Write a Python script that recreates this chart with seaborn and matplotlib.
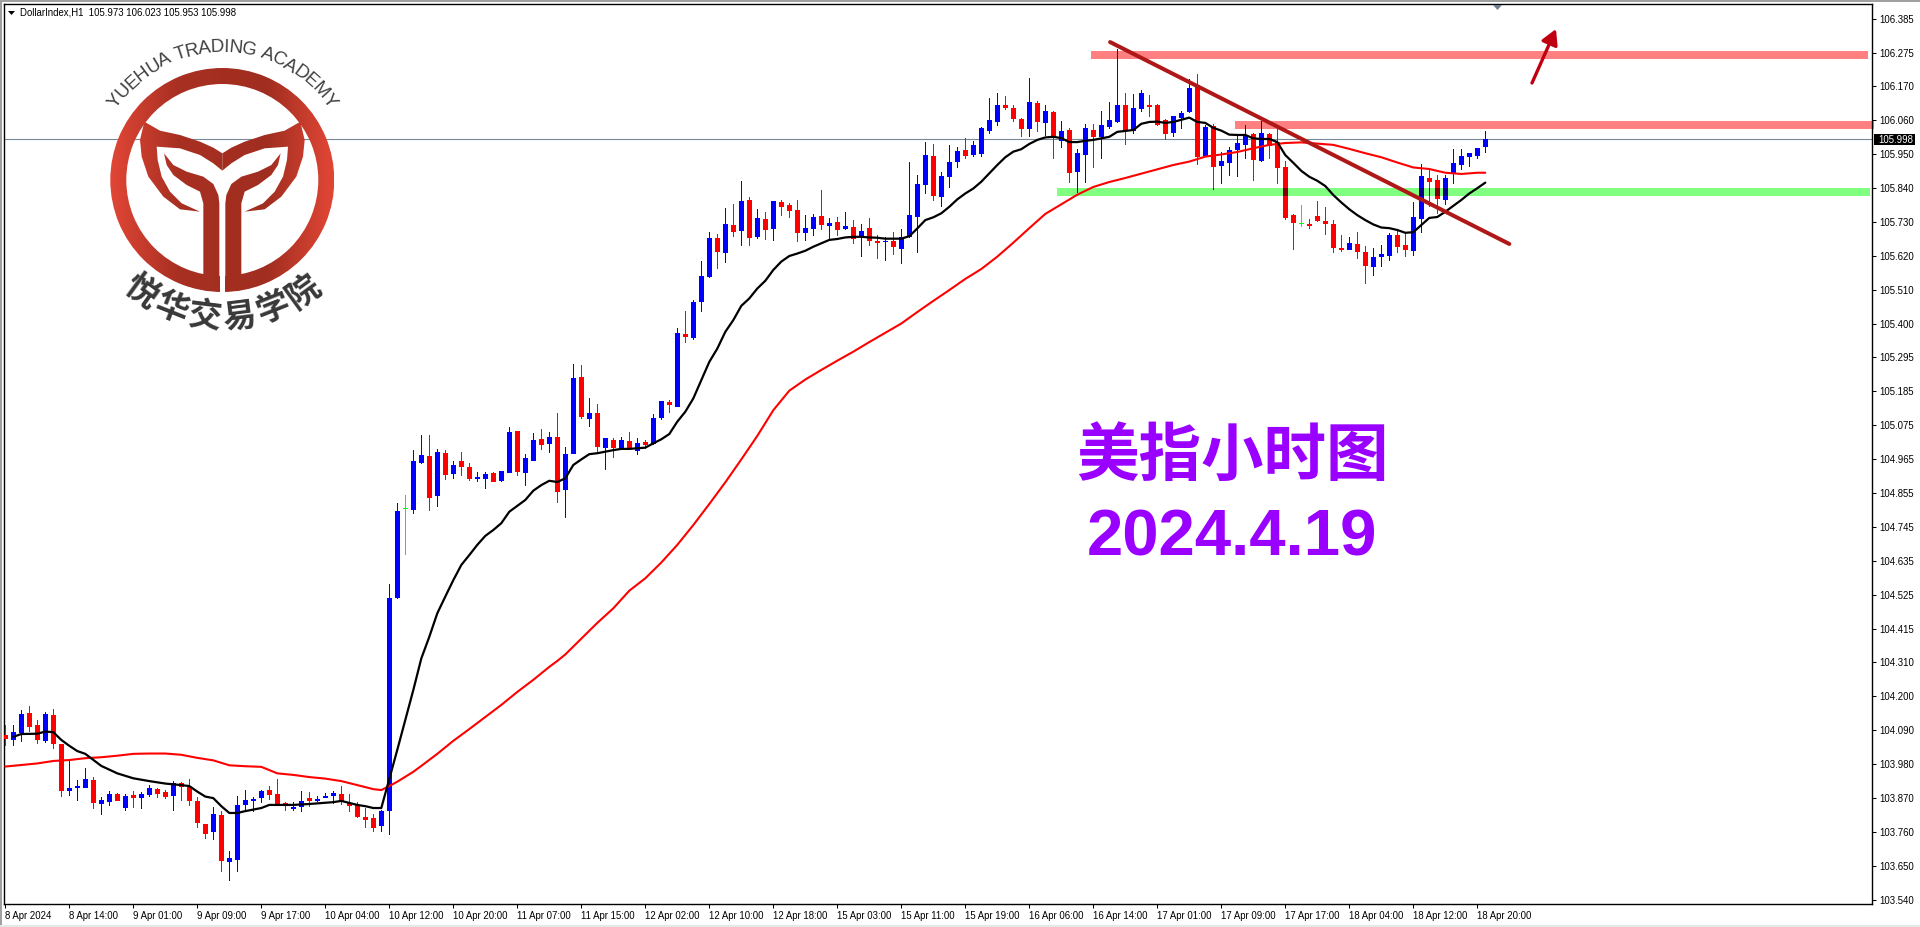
import numpy as np
import pandas as pd
import matplotlib
matplotlib.use("Agg")
import matplotlib.pyplot as plt
import seaborn as sns
from matplotlib.patches import Rectangle, Polygon, Wedge
from matplotlib.colors import LinearSegmentedColormap
from matplotlib.font_manager import FontProperties

# ---------- data ----------
highs = [104.105,104.105,104.154,104.167,104.121,104.147,104.157,104.044,103.992,103.927,103.966,103.937,103.873,103.892,103.884,103.882,103.892,103.889,103.911,103.902,103.895,103.924,103.921,103.931,103.873,103.785,103.840,103.827,103.698,103.876,103.895,103.873,103.895,103.908,103.931,103.856,103.856,103.892,103.889,103.876,103.885,103.892,103.908,103.882,103.856,103.837,103.818,103.831,
104.560,104.821,104.848,104.993,105.042,105.042,104.997,104.993,104.958,104.987,104.951,104.922,104.922,104.922,104.926,105.068,105.055,104.980,105.048,105.061,105.052,105.113,105.003,105.272,105.268,105.162,105.142,105.032,105.032,105.035,105.052,105.032,105.026,105.110,105.152,105.155,105.387,105.442,105.478,105.604,105.697,105.691,105.775,105.788,105.862,105.810,105.772,105.762,105.798,105.801,105.791,105.801,105.752,105.755,105.833,105.743,105.746,105.762,105.736,105.723,105.743,105.688,105.681,105.697,105.707,105.925,105.882,105.989,105.982,105.892,105.979,105.973,106.002,105.992,106.037,106.131,106.147,106.137,106.108,106.066,106.195,106.121,106.108,106.089,106.056,106.034,105.966,106.047,106.047,106.089,106.118,106.289,106.147,106.143,106.156,106.140,106.111,106.063,106.072,106.089,106.192,106.208,106.043,106.047,105.956,105.972,106.011,106.043,106.016,106.056,106.017,106.043,105.927,105.756,105.785,105.740,105.798,105.778,105.736,105.688,105.681,105.697,105.652,105.646,105.656,105.694,105.701,105.694,105.794,105.917,105.898,105.882,105.882,105.966,105.966,105.953,105.969,106.023]
opens = [104.073,104.057,104.078,104.145,104.105,104.053,104.137,104.044,103.892,103.902,103.902,103.927,103.850,103.856,103.882,103.837,103.879,103.869,103.879,103.898,103.889,103.876,103.918,103.905,103.860,103.785,103.759,103.814,103.663,103.669,103.847,103.860,103.869,103.895,103.882,103.853,103.834,103.840,103.869,103.860,103.869,103.876,103.882,103.853,103.847,103.808,103.805,103.779,
103.828,104.514,104.802,104.800,104.951,104.974,104.845,104.984,104.916,104.958,104.939,104.900,104.900,104.919,104.893,104.919,105.055,104.919,104.958,105.029,105.013,105.035,104.864,104.980,105.230,105.094,105.113,105.000,105.026,104.997,105.023,104.990,105.019,105.013,105.097,105.149,105.132,105.368,105.355,105.471,105.552,105.678,105.630,105.720,105.701,105.801,105.681,105.739,105.707,105.794,105.785,105.768,105.694,105.707,105.749,105.717,105.730,105.707,105.714,105.684,105.710,105.668,105.665,105.668,105.642,105.681,105.746,105.850,105.943,105.811,105.876,105.924,105.963,105.947,105.950,106.024,106.053,106.108,106.099,106.063,106.030,106.114,106.050,106.085,105.992,106.027,105.892,105.946,106.027,106.005,106.037,106.053,106.108,106.024,106.095,106.108,106.108,106.060,106.017,106.066,106.085,106.173,105.943,106.040,105.911,105.921,105.963,105.979,106.014,105.927,106.014,105.988,105.908,105.753,105.723,105.723,105.749,105.733,105.723,105.646,105.639,105.659,105.633,105.584,105.617,105.620,105.688,105.656,105.636,105.739,105.872,105.866,105.801,105.885,105.914,105.940,105.943,105.973]
closes = [104.059,104.084,104.141,104.099,104.057,104.141,104.044,103.892,103.902,103.908,103.931,103.853,103.863,103.882,103.860,103.876,103.869,103.882,103.902,103.882,103.873,103.918,103.905,103.860,103.789,103.753,103.818,103.666,103.675,103.847,103.863,103.866,103.892,103.879,103.847,103.847,103.840,103.860,103.860,103.866,103.876,103.885,103.856,103.843,103.808,103.798,103.772,103.827,
104.514,104.796,104.802,104.958,104.977,104.838,104.987,104.913,104.945,104.939,104.900,104.906,104.916,104.890,104.926,105.052,104.922,104.968,105.026,105.010,105.035,104.858,104.980,105.226,105.100,105.113,105.004,105.032,105.000,105.026,105.000,105.016,105.010,105.097,105.152,105.139,105.371,105.358,105.471,105.555,105.678,105.633,105.723,105.697,105.798,105.678,105.743,105.704,105.798,105.778,105.765,105.694,105.710,105.746,105.720,105.726,105.704,105.717,105.675,105.701,105.668,105.662,105.668,105.649,105.681,105.752,105.852,105.947,105.814,105.879,105.924,105.960,105.943,105.979,106.034,106.060,106.108,106.099,106.063,106.031,106.118,106.053,106.089,106.008,106.024,105.888,105.953,106.034,106.005,106.043,106.060,106.108,106.024,106.098,106.147,106.102,106.043,106.014,106.072,106.082,106.163,105.940,106.037,105.908,105.927,105.963,105.985,106.011,105.930,106.017,105.976,105.904,105.743,105.727,105.723,105.717,105.733,105.723,105.646,105.639,105.662,105.633,105.588,105.617,105.626,105.688,105.649,105.639,105.746,105.878,105.859,105.804,105.872,105.920,105.943,105.953,105.969,105.998]
lows = [104.038,104.038,104.050,104.084,104.044,104.048,104.028,103.873,103.876,103.860,103.902,103.834,103.814,103.843,103.860,103.827,103.837,103.834,103.873,103.869,103.866,103.827,103.860,103.843,103.772,103.737,103.734,103.630,103.601,103.630,103.831,103.824,103.853,103.863,103.843,103.827,103.827,103.824,103.840,103.856,103.869,103.850,103.847,103.824,103.805,103.772,103.759,103.759,
103.750,104.512,104.654,104.787,104.948,104.796,104.809,104.897,104.900,104.909,104.893,104.890,104.867,104.890,104.890,104.919,104.909,104.877,104.958,104.993,104.984,104.822,104.774,104.980,105.094,105.068,104.983,104.929,104.968,104.993,104.993,104.977,104.997,105.010,105.090,105.113,105.132,105.339,105.348,105.439,105.549,105.578,105.597,105.681,105.652,105.652,105.675,105.672,105.668,105.749,105.743,105.665,105.668,105.684,105.704,105.672,105.684,105.704,105.659,105.617,105.652,105.610,105.604,105.623,105.594,105.679,105.630,105.821,105.798,105.779,105.840,105.905,105.934,105.940,105.940,106.015,106.040,106.092,106.053,106.005,106.005,106.021,106.008,105.934,105.969,105.856,105.824,105.856,105.904,105.934,106.030,106.050,105.979,106.014,106.085,106.069,106.040,105.995,106.005,106.030,106.083,105.914,105.940,105.833,105.853,105.879,105.875,105.934,105.862,105.924,105.934,105.853,105.736,105.640,105.714,105.707,105.730,105.688,105.630,105.633,105.639,105.610,105.529,105.555,105.584,105.604,105.630,105.617,105.620,105.694,105.778,105.756,105.785,105.853,105.898,105.908,105.933,105.953]

fast_bar = [1,2,4,5,6,7,8,9,10,12,14,16,18,20,22,23,24,25,26,27,28,29,30,32,33,36,38,41,42,44,45,46,47,48,49,50,51,52,53,54,55,56,57,58,59,60,61,62,63,64,65,66,67,68,69,70,71,72,73,74,75,76,77,78,79,80,81,82,83,84,85,86,87,88,89,90,91,92,93,94,95,96,97,98,99,100,101,102,103,104,105,106,107,108,109,110,111,112,113,114,115,116,117,118,119,120,121,122,123,124,125,126,127,128,129,130,131,132,133,134,135,136,137,138,139,140,141,142,143,144,145,146,147,148,149,150,151,152,153,154,155,156,157,158,159,160,161,162,163,164,165,166,167,168,169,170,171,172,173,174,175,176,177,178,179,180,181,182,183,184,185]
fast_ma = [104.067,104.076,104.077,104.084,104.082,104.057,104.038,104.021,104.012,103.973,103.949,103.933,103.924,103.916,103.911,103.908,103.890,103.874,103.869,103.843,103.821,103.821,103.827,103.837,103.847,103.847,103.850,103.856,103.860,103.847,103.843,103.837,103.837,103.931,104.025,104.121,104.218,104.320,104.390,104.466,104.520,104.573,104.622,104.654,104.687,104.716,104.735,104.757,104.794,104.813,104.832,104.862,104.880,104.894,104.890,104.902,104.945,104.963,104.980,104.983,104.988,104.993,104.997,104.997,104.999,105.001,105.015,105.028,105.045,105.085,105.117,105.160,105.219,105.278,105.321,105.375,105.413,105.459,105.483,105.515,105.540,105.575,105.602,105.620,105.628,105.637,105.650,105.661,105.672,105.675,105.680,105.682,105.682,105.680,105.679,105.676,105.676,105.676,105.684,105.709,105.736,105.745,105.758,105.779,105.803,105.822,105.838,105.860,105.887,105.914,105.939,105.957,105.965,105.982,105.995,106.003,106.005,106.001,105.988,105.988,105.992,105.995,106.000,106.005,106.021,106.024,106.027,106.047,106.053,106.054,106.050,106.053,106.060,106.067,106.053,106.050,106.034,106.025,106.012,106.011,106.011,106.000,105.998,105.998,105.988,105.946,105.921,105.895,105.876,105.863,105.846,105.817,105.793,105.771,105.752,105.736,105.722,105.712,105.710,105.704,105.695,105.697,105.720,105.743,105.746,105.763,105.782,105.801,105.822,105.839,105.857]

slow_bar = [0,2,4,6,8,10,12,14,16,18,20,22,24,26,28,30,32,34,36,38,40,42,44,46,47,48,49,50,51,52,54,56,58,60,62,64,66,68,69,70,72,74,76,78,80,82,84,86,88,90,92,94,96,98,100,102,104,106,108,110,112,114,116,118,120,122,124,126,128,130,132,134,136,138,140,142,144,146,148,150,152,154,156,158,160,162,164,166,168,170,172,174,176,178,180,182,184,185]
slow_ma = [103.971,103.976,103.981,103.989,103.992,103.998,104.001,104.006,104.012,104.013,104.013,104.009,103.999,103.991,103.975,103.972,103.970,103.949,103.944,103.937,103.932,103.924,103.911,103.898,103.895,103.908,103.922,103.938,103.954,103.973,104.012,104.054,104.092,104.131,104.170,104.212,104.251,104.293,104.312,104.333,104.384,104.435,104.482,104.539,104.579,104.630,104.687,104.751,104.819,104.889,104.963,105.039,105.122,105.185,105.221,105.252,105.282,105.311,105.342,105.372,105.402,105.439,105.475,105.510,105.546,105.578,105.618,105.663,105.710,105.756,105.787,105.818,105.843,105.859,105.872,105.886,105.900,105.914,105.925,105.941,105.948,105.956,105.968,105.979,105.985,105.987,105.983,105.979,105.966,105.952,105.939,105.922,105.906,105.901,105.889,105.885,105.889,105.889]

price_ticks = [106.385,106.275,106.170,106.060,105.950,105.840,105.730,105.620,105.510,105.400,105.295,105.185,105.075,104.965,104.855,104.745,104.635,104.525,104.415,104.310,104.200,104.090,103.980,103.870,103.760,103.650,103.540]
time_labels = ["8 Apr 2024","8 Apr 14:00","9 Apr 01:00","9 Apr 09:00","9 Apr 17:00","10 Apr 04:00","10 Apr 12:00","10 Apr 20:00","11 Apr 07:00","11 Apr 15:00","12 Apr 02:00","12 Apr 10:00","12 Apr 18:00","15 Apr 03:00","15 Apr 11:00","15 Apr 19:00","16 Apr 06:00","16 Apr 14:00","17 Apr 01:00","17 Apr 09:00","17 Apr 17:00","18 Apr 04:00","18 Apr 12:00","18 Apr 20:00"]
last_price = 105.998
header = "DollarIndex,H1  105.973 106.023 105.953 105.998"
zone_upper = (135.7, 232.8, 106.256, 106.282)
zone_middle = (153.7, 233.6, 106.030, 106.056)
zone_green = (131.5, 233.1, 105.814, 105.840)
trend_bar = [138.1, 188.0]
trend_price = [106.311, 105.659]

# ---------- setup ----------
sns.set_theme(style="white")
plt.rcParams["font.family"] = ["Liberation Sans", "Noto Sans CJK SC", "DejaVu Sans"]
fig = plt.figure(figsize=(19.2, 9.27), dpi=100, facecolor="white")
ax = fig.add_axes([4/1920, 23/927, 1868/1920, 900/927])
ax.set_xlim((4-5.3)/8, (1872-5.3)/8)
ax.set_ylim(103.527, 106.434)

PINK, LIME = "#ff8080", "#80ff80"
rects = {}
for name, z, c in (("u", zone_upper, PINK), ("m", zone_middle, PINK), ("g", zone_green, LIME)):
    r = Rectangle((z[0], z[2]), z[1]-z[0], z[3]-z[2], fc=c, ec="none", zorder=1, clip_on=False)
    ax.add_patch(r)
    rects[name] = r

ax.axhline(last_price, color="#778899", lw=0.8, zorder=1.5)

bars = np.arange(len(closes))
o, c_, h, l = map(np.array, (opens, closes, highs, lows))
kind = np.where(o == c_, "doji", np.where(c_ > o, "up", "down"))
BAR_PX = 1/8          # one screen pixel in bar units
PRICE_PX = 0.00323    # one screen pixel in price units

def draw_candles(palette, clip=None, z=3):
    arts = []
    # wicks as one-pixel wide bars, bodies as five-pixel wide bars
    wick = ax.bar(bars, h-l, bottom=l, width=BAR_PX, color=[palette[k] for k in kind],
                  linewidth=0, antialiased=False, zorder=z)
    arts.extend(wick.patches)
    mask = kind != "doji"
    cont = ax.bar(bars[mask], np.abs(c_-o)[mask], bottom=np.minimum(o, c_)[mask], width=5.6/8,
                  color=[palette[k] for k in kind[mask]], linewidth=0, antialiased=False, zorder=z)
    arts.extend(cont.patches)
    flat = ax.bar(bars[~mask], PRICE_PX, bottom=c_[~mask], width=5.6/8,
                  color=palette["doji"], linewidth=0, antialiased=False, zorder=z)
    arts.extend(flat.patches)
    if clip is not None:
        for a in arts:
            a.set_clip_path(clip)

draw_candles({"up": "#0000ff", "down": "#ff0000", "doji": "#00ff00"})
draw_candles({"up": "#000080", "down": "#800000", "doji": "#008000"}, clip=rects["g"], z=3.2)

sns.lineplot(data=pd.DataFrame({"bar": slow_bar, "ma": slow_ma}), x="bar", y="ma", color="#ff0000",
             lw=1.5, estimator=None, sort=False, legend=False, ax=ax, zorder=4)
sns.lineplot(data=pd.DataFrame({"bar": fast_bar, "ma": fast_ma}), x="bar", y="ma", color="#000000",
             lw=1.6, estimator=None, sort=False, legend=False, ax=ax, zorder=4.5)
sns.lineplot(data=pd.DataFrame({"bar": trend_bar, "p": trend_price}), x="bar", y="p", color="#b01818",
             lw=2.9, estimator=None, sort=False, legend=False, ax=ax, zorder=5)

ax.set_xlabel(""); ax.set_ylabel("")
ax.set_xlim((4-5.3)/8, (1872-5.3)/8)
ax.set_ylim(103.527, 106.434)
for s in ax.spines.values():
    s.set_visible(True); s.set_color("black"); s.set_linewidth(1.0)
ax.yaxis.tick_right()
ax.set_yticks(price_ticks)
ax.set_yticklabels([f"{p:.3f}" for p in price_ticks], fontsize=6.9, color="black")
ax.set_xticks(np.arange(len(time_labels))*8)
ax.set_xticklabels(time_labels, fontsize=6.9, color="black", ha="left")
ax.tick_params(axis="y", which="major", right=True, length=3, width=0.75, pad=2, color="black")
ax.tick_params(axis="x", which="major", bottom=True, length=3, width=0.75, pad=2, color="black")

# ---------- overlay in pixel coordinates ----------
ov = fig.add_axes([0, 0, 1, 1], facecolor="none", zorder=10)
ov.set_axis_off()
ov.set_xlim(0, 1920); ov.set_ylim(927, 0)

ov.add_patch(Rectangle((0, 0), 1920, 2, fc="#a0a0a0", ec="none"))
ov.add_patch(Rectangle((0, 0), 1.5, 927, fc="#a0a0a0", ec="none"))
ov.add_patch(Rectangle((0, 925), 1920, 2, fc="#e8e8e8", ec="none"))
ov.add_patch(Polygon([(8, 11), (15, 11), (11.5, 15)], fc="black", ec="none"))
ov.add_patch(Polygon([(1493, 5), (1502, 5), (1497.5, 10)], fc="#708090", ec="none"))
ov.text(20, 12.5, header, fontsize=6.9, color="black", va="center", ha="left")

ov.add_patch(Rectangle((1874, 134), 41, 11, fc="black", ec="none"))
ov.text(1878, 139.5, f"{last_price:.3f}", fontsize=6.9, color="white", va="center", ha="left")

ov.annotate("", xy=(1556, 29), xytext=(1532, 83),
            arrowprops=dict(arrowstyle="-|>,head_length=0.75,head_width=0.42", color="#c00010", lw=2.4,
                            shrinkA=0, shrinkB=0, mutation_scale=12))

ov.text(1232, 456, "美指小时图", fontsize=45, fontweight="bold", color="#9900ff", ha="center", va="center",
        family=["Noto Sans CJK SC", "DejaVu Sans"])
ov.text(1232, 539, "2024.4.19", fontsize=47, fontweight="bold", color="#9900ff", ha="center", va="center")

# logo
cx, cy = 222.3, 180
cmap = LinearSegmentedColormap.from_list("logo", [(0, "#e24636"), (0.3, "#a83022"), (0.7, "#a02e20"), (1, "#e24636")])
grad = np.linspace(0, 1, 256).reshape(1, -1)
def Z(pts):
    return [(x/3, y/3) for x, y in pts]
def mirror(pts):
    return [(2*667-x, y) for x, y in pts]
tail = [(433,365),(480,392),(540,405),(600,425),(640,443),(667,460),(667,512),(640,490),(600,465),(540,445),(470,440),
        (473,480),(485,530),(510,575),(545,610),(600,635),(540,628),(490,590),(445,530),(425,470),(420,420)]
leaf = [(492,460),(520,495),(560,515),(610,530),(640,552),(655,585),(658,610),(658,840),(650,855),(625,873),(560,858),(560,815),(610,825),
        (610,610),(600,575),(560,555),(520,525),(500,495)]
shapes = [Wedge((cx, cy), 112, 0, 360, width=16, transform=ov.transData)]
for pts in (tail, mirror(tail), leaf, mirror(leaf)):
    shapes.append(Polygon(Z(pts), closed=True, transform=ov.transData))
for sh in shapes:
    im = ov.imshow(grad, extent=[110, 334, 300, 60], cmap=cmap, aspect="auto", zorder=2, interpolation="bilinear")
    im.set_clip_path(sh)
ov.add_patch(Rectangle((219.5, 215), 5.8, 80, fc="white", ec="none", zorder=3))
ov.set_xlim(0, 1920); ov.set_ylim(927, 0)

# arc text around the logo
logo_top = "YUEHUA TRADING ACADEMY"
renderer = fig.canvas.get_renderer()
fp = FontProperties(family="Liberation Sans", size=13.5)
widths = [renderer.get_text_width_height_descent(ch if ch != " " else "n", fp, False)[0] * (1 if ch != " " else 0.55) for ch in logo_top]
total = sum(widths)
R = 128.0
span = np.radians(112)
pos = -span/2
for ch, w in zip(logo_top, widths):
    th = pos + span * (w/2) / total
    pos += span * w / total
    ov.text(cx + R*np.sin(th), cy - R*np.cos(th), ch, fontproperties=fp, color="#404040",
            rotation=-np.degrees(th), rotation_mode="anchor", ha="center", va="baseline", zorder=4)

logo_cn = "悦华交易学院"
for ch, deg in zip(logo_cn, [-36, -21.6, -7.2, 7.2, 21.6, 36]):
    th = np.radians(deg)
    ov.text(cx + 138*np.sin(th), cy + 138*np.cos(th), ch, fontsize=24, fontweight="bold", color="#383838",
            family=["Noto Sans CJK SC", "DejaVu Sans"], rotation=deg, rotation_mode="anchor",
            ha="center", va="center", zorder=4)

fig.savefig("out.png", dpi=100)
